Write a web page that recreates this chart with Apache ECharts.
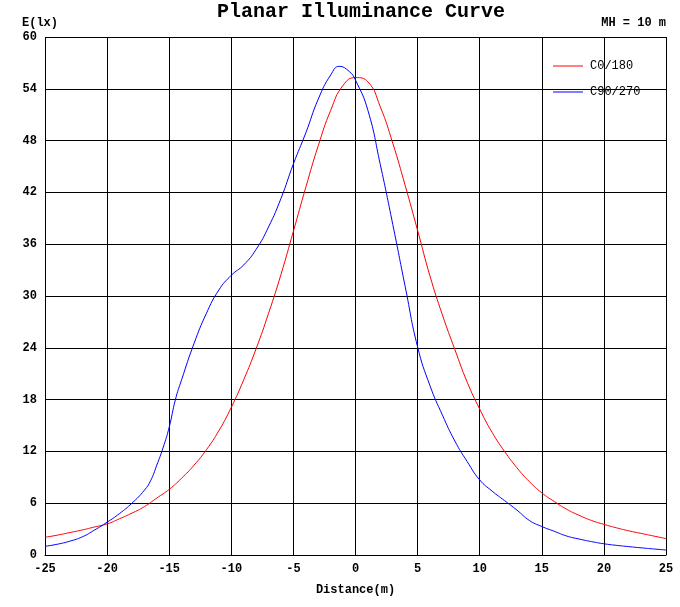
<!DOCTYPE html>
<html>
<head>
<meta charset="utf-8">
<script src="https://cdn.jsdelivr.net/npm/echarts@6/dist/echarts.min.js"></script>
<style>html,body{margin:0;padding:0;background:#fff}#c{width:680px;height:607px}</style>
</head>
<body>
<div id="c"></div>
<script>
var redX = [-25,-24,-23,-22,-21,-20,-19,-18,-17,-16,-15,-14,-13,-12,-11,-10,-9,-8,-7,-6,-5,-4,-3,-2,-1,0,1,2,3,4,5,6,7,8,9,10,11,12,13,14,15,16,17,18,19,20,21,22,23,24,25];
var redY = [2.05,2.3,2.6,2.9,3.25,3.6,4.2,4.85,5.6,6.6,7.6,8.9,10.4,12.2,14.4,17.1,20.3,23.9,28.0,32.5,37.5,42.6,47.4,51.5,54.4,55.3,54.8,51.9,47.7,42.8,37.6,32.3,27.8,23.8,20.0,16.9,14.2,12.0,10.1,8.5,7.2,6.2,5.3,4.6,4.0,3.55,3.15,2.8,2.5,2.2,1.9];
var blueX = [-25,-24,-23,-22,-21,-20,-19,-18,-17,-16.5,-16,-15.5,-15,-14.5,-14,-13,-12,-11,-10,-9,-8,-7,-6,-5,-4,-3,-2,-1.3,-0.5,0,1,2,3,4,5,6,7,8,9,10,11,12,13,14,15,16,17,18,19,20,21,22,23,24,25];
var blueY = [1.0,1.25,1.6,2.1,2.9,3.8,4.8,6.0,7.5,8.6,10.4,12.4,14.8,18.0,20.3,24.5,28.0,30.7,32.4,33.6,35.4,38.0,41.3,45.3,48.9,52.8,55.6,56.6,56.0,55.0,51.5,45.2,38.3,31.1,24.1,19.6,16.2,13.2,10.8,8.7,7.4,6.3,5.2,4.0,3.3,2.75,2.2,1.85,1.55,1.3,1.12,0.97,0.83,0.7,0.58];
var xTicks = [-25,-20,-15,-10,-5,0,5,10,15,20,25];
var yTicks = [0,6,12,18,24,30,36,42,48,54,60];
var seriesNames = ['C0/180','C90/270'];

function pairs(xs, ys){ return xs.map(function(x,i){return [x, ys[i]];}); }
var FONT = '"Liberation Mono", "DejaVu Sans Mono", monospace';
var chart = echarts.init(document.getElementById('c'));
chart.setOption({
  animation: false,
  backgroundColor: '#fff',
  textStyle: {fontFamily: FONT, color: '#000'},
  title: {
    text: 'Planar Illuminance Curve',
    left: 356, top: -3, textAlign: 'center',
    textStyle: {fontFamily: FONT, fontSize: 20, fontWeight: 'bold', color: '#000'}
  },
  graphic: [
    {type: 'text', left: 22, top: 17, style: {text: 'E(lx)', font: 'bold 12px ' + FONT, fill: '#000'}},
    {type: 'text', right: 14, top: 17, style: {text: 'MH = 10 m', font: 'bold 12px ' + FONT, fill: '#000', textAlign: 'right'}}
  ],
  legend: {
    orient: 'vertical', left: 548, top: 55,
    itemWidth: 30, itemHeight: 1, itemGap: 14,
    icon: 'rect',
    textStyle: {fontFamily: FONT, fontSize: 12, color: '#000', padding: [0,0,0,2]},
    data: seriesNames
  },
  grid: {left: 45, right: 14, top: 37, bottom: 52, containLabel: false},
  xAxis: {
    type: 'value', min: -25, max: 25, interval: 5,
    name: 'Distance(m)', nameLocation: 'middle', nameGap: 29,
    nameTextStyle: {fontFamily: FONT, fontSize: 12, fontWeight: 'bold', color: '#000'},
    axisLine: {show: true, lineStyle: {color: '#000', width: 1}},
    axisTick: {show: false},
    axisLabel: {fontFamily: FONT, fontSize: 12, fontWeight: 'bold', color: '#000', margin: 8,
      formatter: function(v){ return xTicks.indexOf(v) >= 0 ? String(v) : ''; }},
    splitLine: {show: true, lineStyle: {color: '#000', width: 1}}
  },
  yAxis: {
    type: 'value', min: 0, max: 60, interval: 6,
    axisLine: {show: true, lineStyle: {color: '#000', width: 1}},
    axisTick: {show: false},
    axisLabel: {fontFamily: FONT, fontSize: 12, fontWeight: 'bold', color: '#000', margin: 8,
      formatter: function(v){ return yTicks.indexOf(v) >= 0 ? String(v) : ''; }},
    splitLine: {show: true, lineStyle: {color: '#000', width: 1}}
  },
  series: [
    {name: seriesNames[0], type: 'line', data: pairs(redX, redY), smooth: 0.5,
     symbol: 'none', lineStyle: {color: '#ff0000', width: 1}, itemStyle: {color: '#ff0000'}},
    {name: seriesNames[1], type: 'line', data: pairs(blueX, blueY), smooth: 0.5,
     symbol: 'none', lineStyle: {color: '#0000ff', width: 1}, itemStyle: {color: '#0000ff'}}
  ]
});
</script>
</body>
</html>
